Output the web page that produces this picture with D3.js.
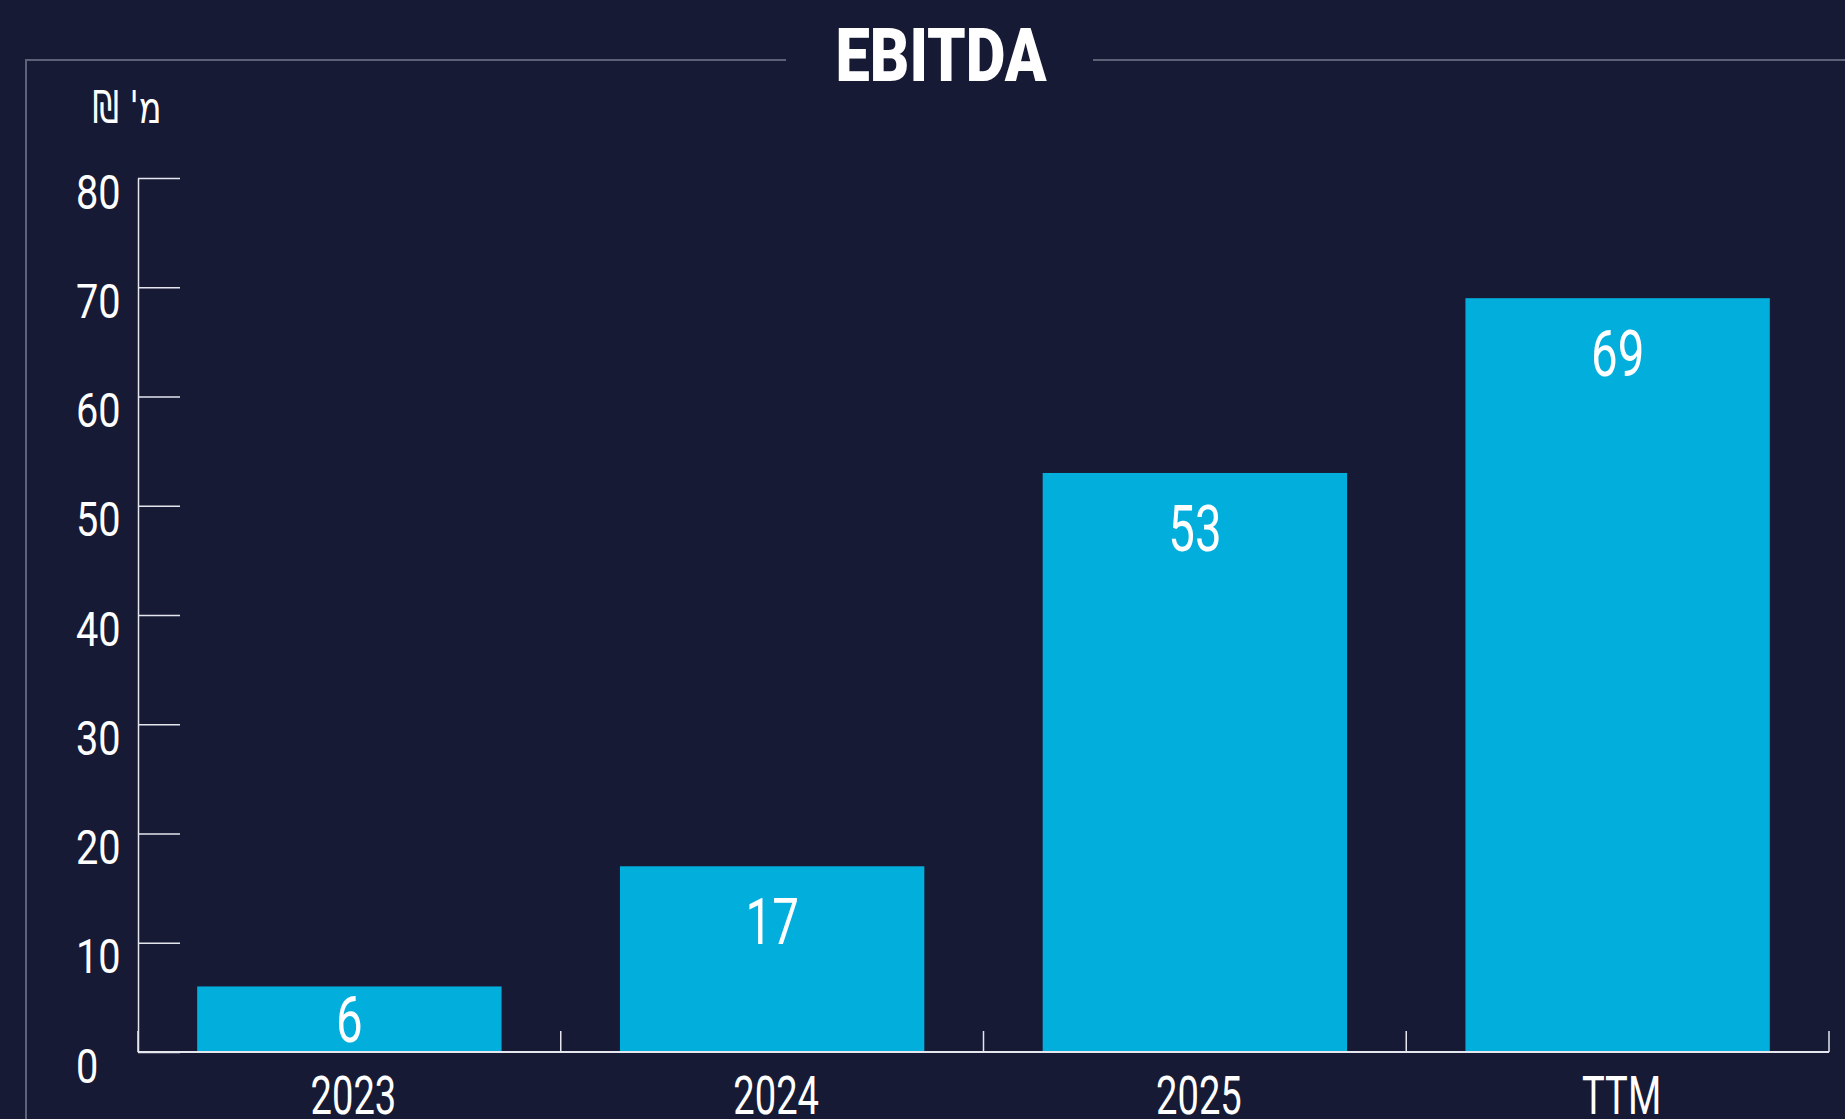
<!DOCTYPE html>
<html>
<head>
<meta charset="utf-8">
<script src="https://cdn.jsdelivr.net/npm/d3@7.9.0/dist/d3.min.js"></script>
<style>
  html, body { margin: 0; padding: 0; background: #171a35; overflow: hidden; }
  svg { display: block; }
</style>
</head>
<body>
<div id="chart"></div>
<script>
// data
const categories = ['2023', '2024', '2025', 'TTM'];
const ebitda = [6, 17, 53, 69];
const yTicks = [0, 10, 20, 30, 40, 50, 60, 70, 80];
const title = 'EBITDA';
const unitLabel = "מ' ₪";

const width = 1845;
const height = 1119;
const margin = { top: 178, right: 16, bottom: 67, left: 138 };

const bg = '#171a35';
const barColor = '#02aedb';
const frameColor = '#5f6277';
const axisColor = '#e6e6ee';

const svg = d3.select('#chart')
    .append('svg')
    .attr('width', width)
    .attr('height', height);

svg.append('rect').attr('width', width).attr('height', height).attr('fill', bg);

const usable = {
    left: margin.left,
    right: width - margin.right,
    top: margin.top,
    bottom: height - margin.bottom,
};

const xScale = d3.scaleBand()
    .domain(categories)
    .range([usable.left, usable.right])
    .paddingInner(0.28)
    .paddingOuter(0.14);

const yScale = d3.scaleLinear()
    .domain([0, 80])
    .range([usable.bottom, usable.top]);

// frame with a gap for the title
const frame = svg.append('g').attr('stroke', frameColor).attr('stroke-width', 2).attr('fill', 'none');
frame.append('path').attr('d', `M26,${height}V60H786`);
frame.append('path').attr('d', `M1093,60H${width}`);

svg.append('text')
    .attr('transform', 'translate(941,81) scale(0.84,1.02)')
    .attr('text-anchor', 'middle')
    .attr('font-family', 'Roboto, sans-serif')
    .attr('font-weight', 900)
    .attr('font-size', 73)
    .attr('fill', '#ffffff')
    .text(title);

svg.append('text')
    .attr('transform', 'translate(127,123) scale(0.8,1.05)')
    .attr('text-anchor', 'middle')
    .attr('direction', 'rtl')
    .attr('font-family', 'DejaVu Sans, sans-serif')
    .attr('font-size', 42)
    .attr('fill', '#ffffff')
    .text(unitLabel);

// bars
svg.append('g')
    .selectAll('rect')
    .data(categories)
    .join('rect')
    .attr('x', d => xScale(d))
    .attr('width', xScale.bandwidth())
    .attr('y', (d, i) => yScale(ebitda[i]))
    .attr('height', (d, i) => yScale(0) - yScale(ebitda[i]))
    .attr('fill', barColor);

// value labels, inside near the top, centred when the bar is short
svg.append('g')
    .selectAll('text')
    .data(categories)
    .join('text')
    .attr('transform', (d, i) => {
        const top = yScale(ebitda[i]);
        const h = yScale(0) - top;
        const base = h > 120 ? top + 78 : top + h / 2 + 23;
        return `translate(${xScale(d) + xScale.bandwidth() / 2},${base}) scale(0.73,1)`;
    })
    .attr('text-anchor', 'middle')
    .attr('font-family', 'Roboto, sans-serif')
    .attr('font-size', 65)
    .attr('fill', '#ffffff')
    .text((d, i) => ebitda[i]);

// y axis, labels left-aligned
const yAxis = d3.axisLeft(yScale)
    .tickValues(yTicks)
    .tickSizeInner(-42)
    .tickSizeOuter(0)
    .tickPadding(19);

const yG = svg.append('g')
    .attr('transform', `translate(${usable.left},0)`)
    .call(yAxis);
yG.select('.domain').attr('stroke', axisColor).attr('stroke-width', 1.5);
yG.selectAll('.tick line').attr('stroke', axisColor).attr('stroke-width', 1.5);
yG.selectAll('.tick text')
    .attr('x', null)
    .attr('dy', null)
    .attr('text-anchor', 'start')
    .attr('transform', 'translate(-62,30) scale(0.81,1)')
    .attr('font-family', 'Roboto, sans-serif')
    .attr('font-size', 49)
    .attr('fill', '#ffffff');

// x axis: labels at band centres, ticks at band boundaries
const xAxis = d3.axisBottom(xScale).tickSize(0).tickPadding(0);
const xG = svg.append('g')
    .attr('transform', `translate(0,${usable.bottom})`)
    .call(xAxis);
xG.select('.domain').remove();
xG.selectAll('.tick text')
    .attr('y', null)
    .attr('dy', null)
    .attr('transform', 'translate(4,62) scale(0.72,1)')
    .attr('font-family', 'Roboto, sans-serif')
    .attr('font-size', 53)
    .attr('fill', '#ffffff');

const step = xScale.step();
const edges = [usable.left].concat(categories.map(d => xScale(d) + xScale.bandwidth() + step * xScale.paddingOuter()));

svg.append('line')
    .attr('x1', usable.left).attr('x2', usable.right)
    .attr('y1', usable.bottom).attr('y2', usable.bottom)
    .attr('stroke', axisColor).attr('stroke-width', 2);

svg.append('g')
    .selectAll('line')
    .data(edges)
    .join('line')
    .attr('x1', d => d).attr('x2', d => d)
    .attr('y1', usable.bottom).attr('y2', usable.bottom - 21)
    .attr('stroke', axisColor).attr('stroke-width', 1.5);
</script>
</body>
</html>
